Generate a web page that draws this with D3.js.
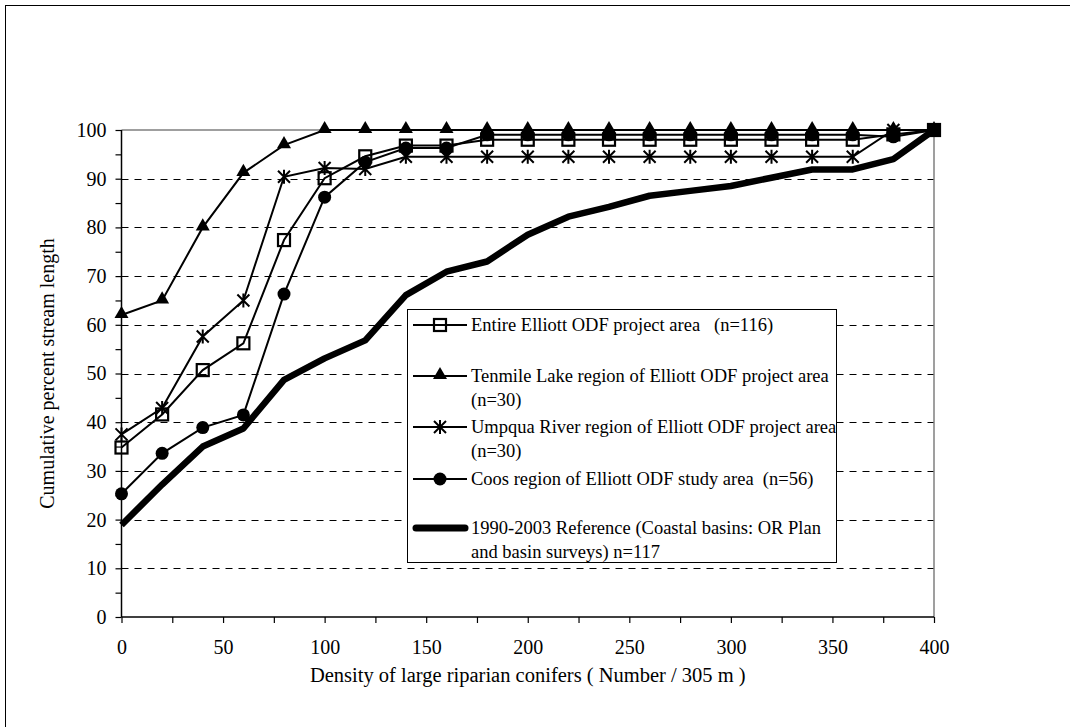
<!DOCTYPE html>
<html>
<head>
<meta charset="utf-8">
<script src="https://cdn.jsdelivr.net/npm/d3@7"></script>
<style>
  body { margin: 0; background: #fff; }
  text { font-family: "Liberation Serif", "Times New Roman", serif; fill: #000; }
</style>
</head>
<body>
<div id="chart"></div>
<script>
// density of large riparian conifers (number / 305 m)
var xVals = [0, 20, 40, 60, 80, 100, 120, 140, 160, 180, 200, 220, 240, 260, 280, 300, 320, 340, 360, 380, 400];

// cumulative percent stream length
var entire = [34.8, 41.6, 50.7, 56.2, 77.4, 90.1, 94.6, 96.8, 96.8, 98, 98, 98, 98, 98, 98, 98, 98, 98, 98, 99.1, 100];
var tenmile = [62, 65, 80, 91.2, 96.9, 100, 100, 100, 100, 100, 100, 100, 100, 100, 100, 100, 100, 100, 100, 100, 100];
var umpqua = [37.5, 42.9, 57.6, 65, 90.4, 92.2, 92, 94.5, 94.5, 94.5, 94.5, 94.5, 94.5, 94.5, 94.5, 94.5, 94.5, 94.5, 94.5, 100, 100];
var coos = [25.3, 33.6, 38.9, 41.5, 66.3, 86.2, 93.4, 96.3, 96.3, 99, 99, 99, 99, 99, 99, 99, 99, 99, 99, 98.6, 100];
var reference = [18.9, 27.2, 35, 38.7, 48.7, 53.1, 56.8, 66.1, 70.9, 73, 78.5, 82.2, 84.2, 86.5, 87.5, 88.5, 90.2, 91.9, 91.9, 94, 100];

var legendLabels = [
  ["Entire Elliott ODF project area   (n=116)"],
  ["Tenmile Lake region of Elliott ODF project area", "(n=30)"],
  ["Umpqua River region of Elliott ODF project area", "(n=30)"],
  ["Coos region of Elliott ODF study area  (n=56)"],
  ["1990-2003 Reference (Coastal basins: OR Plan", "and basin surveys) n=117"]
];

var xTicks = d3.range(0, 401, 25);
var yTicks = d3.range(0, 101, 5);
var gridVals = d3.range(10, 100, 10);

var width = 1070, height = 727;
var plot = { left: 121.5, right: 934, top: 130, bottom: 617 };

var svg = d3.select("#chart").append("svg")
  .attr("width", width)
  .attr("height", height);

svg.append("rect").attr("width", width).attr("height", height).attr("fill", "#fff");

// outer frame (only left/top edges fall inside the picture)
svg.append("rect")
  .attr("x", 5.5).attr("y", 5.5)
  .attr("width", 1200).attr("height", 900)
  .attr("fill", "none").attr("stroke", "#000").attr("stroke-width", 1);

var x = d3.scaleLinear().domain([0, 400]).range([plot.left, plot.right]);
var y = d3.scaleLinear().domain([0, 100]).range([plot.bottom, plot.top]);

// dashed gridlines
svg.append("g").selectAll("line")
  .data(gridVals)
  .enter().append("line")
  .attr("x1", plot.left).attr("x2", plot.right)
  .attr("y1", function (d) { return Math.round(y(d)) + 0.5; })
  .attr("y2", function (d) { return Math.round(y(d)) + 0.5; })
  .attr("stroke", "#000")
  .attr("stroke-width", 1)
  .attr("stroke-dasharray", "7,6");

// gray plot border top / right
svg.append("path")
  .attr("d", "M" + plot.left + "," + plot.top + "H" + plot.right + "V" + plot.bottom)
  .attr("fill", "none").attr("stroke", "#808080").attr("stroke-width", 1.5);

// axes
var yAxis = d3.axisLeft(y).tickValues(yTicks).tickSize(6).tickPadding(9)
  .tickFormat(function (d) { return d % 10 === 0 ? d : ""; });
var xAxis = d3.axisBottom(x).tickValues(xTicks).tickSize(6).tickPadding(17)
  .tickFormat(function (d) { return d % 50 === 0 ? d : ""; });

var gy = svg.append("g").attr("transform", "translate(" + plot.left + ",0)").call(yAxis);
var gx = svg.append("g").attr("transform", "translate(0," + plot.bottom + ")").call(xAxis);
[gx, gy].forEach(function (g) {
  g.select(".domain").attr("stroke-width", 1.5).attr("d",
    g === gx ? "M" + plot.left + ",0H" + plot.right : "M0," + plot.top + "V" + plot.bottom);
  g.selectAll(".tick line").attr("stroke-width", 1.2);
  g.selectAll("text").attr("font-family", "Liberation Serif").attr("font-size", 20);
});

// axis titles
svg.append("text")
  .attr("x", (plot.left + plot.right) / 2).attr("y", 682)
  .attr("text-anchor", "middle").attr("font-size", 20.5)
  .text("Density of large riparian conifers ( Number / 305 m )");

svg.append("text")
  .attr("transform", "translate(54," + (plot.top + plot.bottom) / 2 + ") rotate(-90)")
  .attr("text-anchor", "middle").attr("font-size", 20)
  .text("Cumulative percent stream length");

var line = d3.line()
  .x(function (d, i) { return x(xVals[i]); })
  .y(function (d) { return y(d); });

// marker drawers
function square(g, cx, cy) {
  g.append("rect").attr("x", cx - 6).attr("y", cy - 6).attr("width", 12).attr("height", 12)
    .attr("fill", "none").attr("stroke", "#000").attr("stroke-width", 2.2);
}
function triangle(g, cx, cy) {
  g.append("path").attr("d", d3.symbol().type(d3.symbolTriangle).size(85)())
    .attr("transform", "translate(" + cx + "," + (cy - 1) + ")").attr("fill", "#000");
}
function star(g, cx, cy) {
  var s = 6;
  g.append("path")
    .attr("d", "M" + (cx - s) + "," + (cy - s) + "L" + (cx + s) + "," + (cy + s) +
      "M" + (cx - s) + "," + (cy + s) + "L" + (cx + s) + "," + (cy - s) +
      "M" + cx + "," + (cy - s - 1) + "V" + (cy + s + 1))
    .attr("stroke", "#000").attr("stroke-width", 2).attr("fill", "none");
}
function dot(g, cx, cy) {
  g.append("circle").attr("cx", cx).attr("cy", cy).attr("r", 6.5).attr("fill", "#000");
}

var series = [
  { values: entire, marker: square },
  { values: tenmile, marker: triangle },
  { values: umpqua, marker: star },
  { values: coos, marker: dot }
];

// thick reference line
svg.append("path")
  .attr("d", line(reference))
  .attr("fill", "none").attr("stroke", "#000")
  .attr("stroke-width", 6.5).attr("stroke-linejoin", "round");

series.forEach(function (s) {
  var g = svg.append("g");
  g.append("path")
    .attr("d", line(s.values))
    .attr("fill", "none").attr("stroke", "#000").attr("stroke-width", 2);
  s.values.forEach(function (v, i) {
    s.marker(g, x(xVals[i]), y(v));
  });
});

// legend
var lg = svg.append("g");
lg.append("rect")
  .attr("x", 407.5).attr("y", 309.5).attr("width", 429).attr("height", 253)
  .attr("fill", "#fff").attr("stroke", "#000").attr("stroke-width", 1);

var rowY = [325, 376, 427, 479, 528];
var markers = [square, triangle, star, dot, null];
legendLabels.forEach(function (lines, i) {
  var cy = rowY[i];
  lg.append("line")
    .attr("x1", markers[i] ? 413 : 416).attr("x2", markers[i] ? 467 : 465)
    .attr("y1", cy).attr("y2", cy)
    .attr("stroke", "#000").attr("stroke-width", markers[i] ? 2 : 7)
    .attr("stroke-linecap", markers[i] ? "butt" : "round");
  if (markers[i]) markers[i](lg, 440, cy);
  lines.forEach(function (t, j) {
    lg.append("text")
      .attr("x", 471).attr("y", cy + j * 23.5).attr("dy", "0.35em")
      .attr("font-size", 18.5)
      .style("white-space", "pre")
      .text(t);
  });
});
</script>
</body>
</html>
